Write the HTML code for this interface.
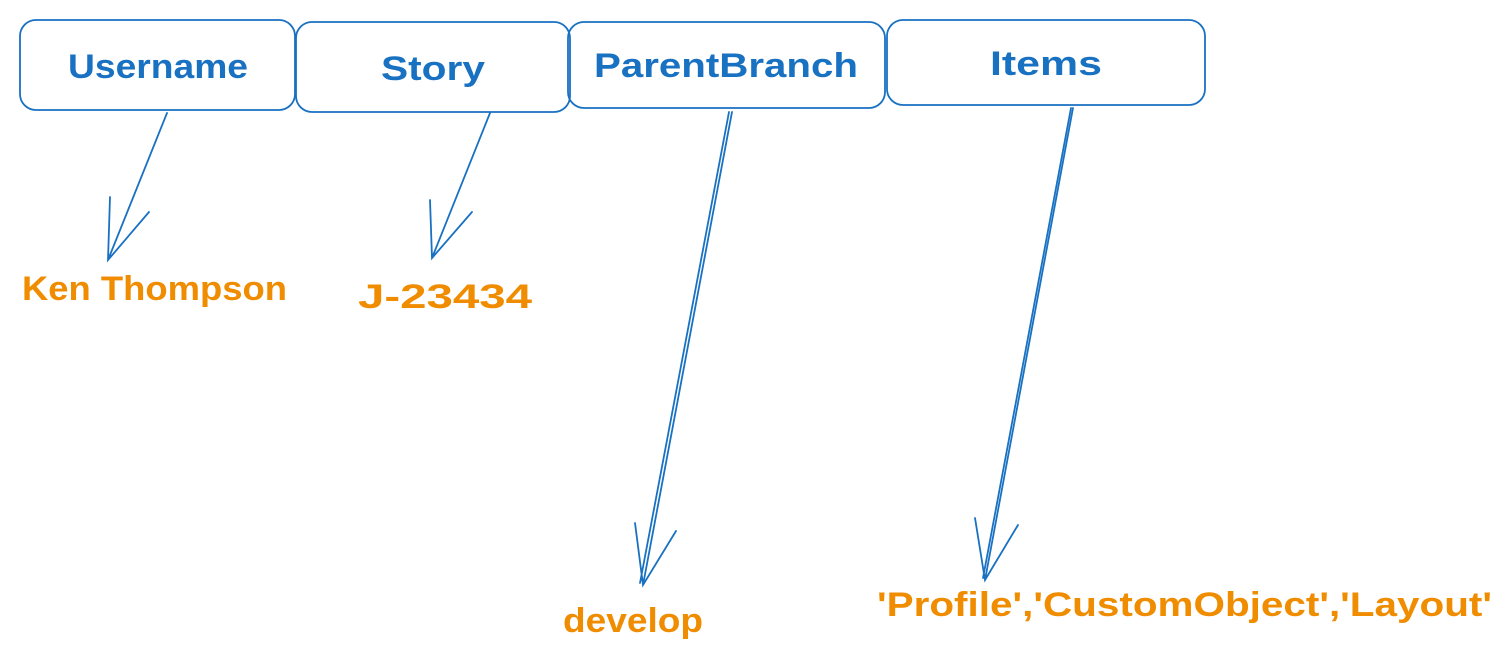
<!DOCTYPE html>
<html><head><meta charset="utf-8"><style>
html,body{margin:0;padding:0;background:#fff;}
svg{display:block;}
</style></head><body>
<svg width="1511" height="665" viewBox="0 0 1511 665" xmlns="http://www.w3.org/2000/svg">
<g fill="none" stroke="#1971c2" stroke-width="1.8" stroke-linecap="round">
<rect x="20" y="20" width="275" height="90" rx="16"/>
<rect x="296" y="22" width="274" height="90" rx="16"/>
<rect x="568" y="22" width="317" height="86" rx="16"/>
<rect x="887" y="20" width="318" height="85" rx="16"/>
<path d="M167 113 L108 260 M110 197 L108 260 L149 212"/>
<path d="M490 113 L432 258 M430 200 L432 258 L472 212"/>
<path d="M732 112 L643 585 M729 112 L640 583 M635 523 L643 585 L676 531"/>
<path d="M1073 108 L985 580 M1071 108 L983 578 M975 518 L985 580 L1018 525"/>
</g>
<g font-family="Liberation Sans, sans-serif" font-weight="bold" fill="#1971c2" font-size="34">
<text x="68" y="78" textLength="180" lengthAdjust="spacingAndGlyphs">Username</text>
<text x="381" y="80" textLength="104" lengthAdjust="spacingAndGlyphs">Story</text>
<text x="594" y="77" textLength="264" lengthAdjust="spacingAndGlyphs">ParentBranch</text>
<text x="990" y="75" textLength="112" lengthAdjust="spacingAndGlyphs">Items</text>
</g>
<g font-family="Liberation Sans, sans-serif" font-weight="bold" fill="#f08c00" font-size="34">
<text x="22" y="300" textLength="265" lengthAdjust="spacingAndGlyphs">Ken Thompson</text>
<text x="358" y="308" textLength="174" lengthAdjust="spacingAndGlyphs">J-23434</text>
<text x="563" y="632" textLength="140" lengthAdjust="spacingAndGlyphs">develop</text>
<text x="877" y="616" textLength="615" lengthAdjust="spacingAndGlyphs">'Profile','CustomObject','Layout'</text>
</g>
</svg>
</body></html>
